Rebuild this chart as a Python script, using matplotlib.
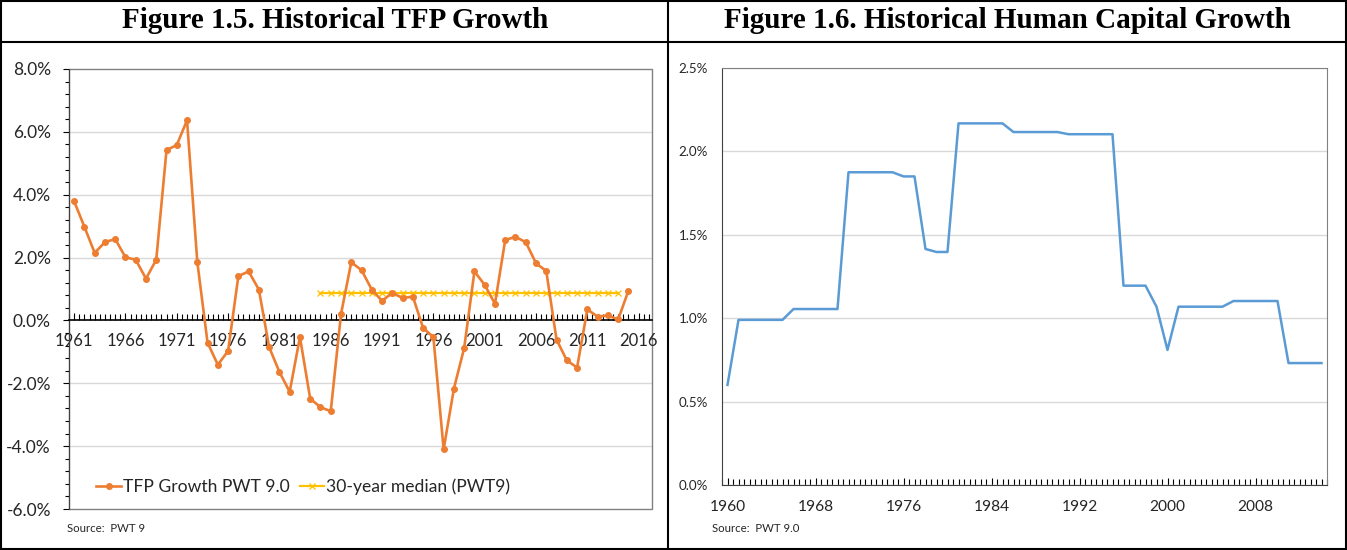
import numpy as np
import matplotlib
matplotlib.use("Agg")
import matplotlib.pyplot as plt
from matplotlib.lines import Line2D
from matplotlib.patches import Rectangle
from matplotlib.ticker import FuncFormatter, MultipleLocator

# --- Data ---
tfp_years = list(range(1961, 2016))
tfp_growth = [3.79, 2.98, 2.15, 2.49, 2.59, 2.01, 1.93, 1.33, 1.93,
              5.42, 5.58, 6.37, 1.86, -0.71, -1.41, -0.97, 1.41, 1.56, 0.98,
              -0.85, -1.64, -2.27, -0.53, -2.49, -2.76, -2.89, 0.20, 1.85, 1.60,
              0.98, 0.62, 0.88, 0.71, 0.76, -0.24, -0.53, -4.10, -2.17, -0.88,
              1.56, 1.13, 0.53, 2.56, 2.66, 2.49, 1.82, 1.57, -0.61, -1.27,
              -1.50, 0.35, 0.12, 0.16, 0.03, 0.94]
median_years = list(range(1985, 2015))
median_value = [0.88] * len(median_years)
tfp_tick_years = [1961, 1966, 1971, 1976, 1981, 1986, 1991, 1996, 2001, 2006, 2011, 2016]

hc_years = list(range(1960, 2015))
hc_growth = [0.60,
             0.99, 0.99, 0.99, 0.99, 0.99,
             1.055, 1.055, 1.055, 1.055, 1.055,
             1.875, 1.875, 1.875, 1.875, 1.875,
             1.85, 1.85, 1.415, 1.397, 1.397,
             2.168, 2.168, 2.168, 2.168, 2.168,
             2.116, 2.116, 2.116, 2.116, 2.116,
             2.103, 2.103, 2.103, 2.103, 2.103,
             1.195, 1.195, 1.195, 1.069, 0.81,
             1.069, 1.069, 1.069, 1.069, 1.069,
             1.103, 1.103, 1.103, 1.103, 1.103,
             0.731, 0.731, 0.731, 0.731]
hc_tick_years = [1960, 1968, 1976, 1984, 1992, 2000, 2008]

# --- Style ---
ORANGE = "#ED7D31"
YELLOW = "#FFC000"
BLUE = "#5B9BD5"
GRID = "#D9D9D9"
FRAME = "#808080"
TEXT = "#262626"
plt.rcParams["font.family"] = ["Lato", "DejaVu Sans"]

fig = plt.figure(figsize=(13.47, 5.5), dpi=100)
W, H = 1347, 550

def box(px_left, px_top, px_right, px_bottom):
    return [px_left / W, 1 - px_bottom / H, (px_right - px_left) / W, (px_bottom - px_top) / H]

pct = FuncFormatter(lambda v, _: f"{v:.1f}%")

# ---------- Left chart: TFP growth ----------
ax1 = fig.add_axes(box(69, 69, 652, 509))
ax1.plot(tfp_years, tfp_growth, color=ORANGE, lw=1.9, marker="o", ms=4,
         label="TFP Growth PWT 9.0", zorder=3)
ax1.plot(median_years, median_value, color=YELLOW, lw=1.6, marker="x", ms=4,
         mew=0.9, label="30-year median (PWT9)", zorder=2)
ax1.set_xlim(1960.6, 2017.3)
ax1.set_ylim(-6, 8)
ax1.set_yticks(np.arange(-6, 8.1, 2))
ax1.yaxis.set_major_formatter(pct)
ax1.yaxis.set_minor_locator(MultipleLocator(0.4))
for v in [-4, -2, 2, 4, 6]:
    ax1.axhline(v, color=GRID, lw=1, zorder=0)
for s in ["top", "right"]:
    ax1.spines[s].set_visible(False)
ax1.spines["bottom"].set_position(("data", 0))
ax1.spines["bottom"].set_color("black")
ax1.spines["bottom"].set_linewidth(1.2)
ax1.spines["left"].set_color("#404040")
ax1.add_patch(Rectangle((0, 0), 1, 1, transform=ax1.transAxes, fill=False,
                        edgecolor=FRAME, lw=1, clip_on=False, zorder=0))
ax1.set_xticks(tfp_tick_years)
ax1.set_xticks(np.arange(1960.5, 2017.5, 0.5), minor=True)
ax1.tick_params(axis="x", which="major", direction="in", length=5, pad=9,
                labelsize=12, labelcolor=TEXT)
ax1.tick_params(axis="x", which="minor", direction="in", length=4, width=0.8)
ax1.tick_params(axis="y", which="major", length=4, labelsize=12.5, labelcolor=TEXT, pad=9)
ax1.tick_params(axis="y", which="minor", length=3, width=0.8)
ax1.legend(loc="center left", bbox_to_anchor=(0.035, 0.05), ncol=2, frameon=False,
           fontsize=12.6, handlelength=1.4, handletextpad=0.1, columnspacing=0.6,
           labelcolor=TEXT, borderaxespad=0)
fig.text(67 / W, 1 - 528 / H, "Source:  PWT 9", fontsize=8.2, color=TEXT, va="center")

# ---------- Right chart: human capital growth ----------
ax2 = fig.add_axes(box(722, 68, 1327, 485))
ax2.plot(hc_years, hc_growth, color=BLUE, lw=1.8, zorder=3)
ax2.set_xlim(1959.5, 2014.5)
ax2.set_ylim(0, 2.5)
ax2.set_yticks(np.arange(0, 2.51, 0.5))
ax2.yaxis.set_major_formatter(pct)
ax2.grid(axis="y", color=GRID, lw=1)
ax2.set_axisbelow(True)
for s in ax2.spines.values():
    s.set_color(FRAME)
ax2.spines["left"].set_color("#404040")
ax2.spines["bottom"].set_color("#404040")
ax2.set_xticks(hc_tick_years)
ax2.set_xticks(np.arange(1959.5, 2015, 0.5), minor=True)
ax2.tick_params(axis="x", which="major", direction="in", length=5, pad=11,
                labelsize=11.2, labelcolor=TEXT)
ax2.tick_params(axis="x", which="minor", direction="in", length=4, width=0.8)
ax2.tick_params(axis="y", length=0, labelsize=9.6, labelcolor=TEXT, pad=10)
fig.text(712 / W, 1 - 528 / H, "Source:  PWT 9.0", fontsize=8.2, color=TEXT, va="center")

# ---------- Titles and table lines ----------
title_font = dict(family=["Liberation Serif", "DejaVu Serif"], fontsize=21,
                  fontweight="bold", ha="center", va="center", color="black")
fig.text(335 / W, 1 - 21 / H, "Figure 1.5. Historical TFP Growth", **title_font)
fig.text(1007 / W, 1 - 21 / H, "Figure 1.6. Historical Human Capital Growth", **title_font)

def fline(x0, y0, x1, y1):
    fig.add_artist(Line2D([x0 / W, x1 / W], [1 - y0 / H, 1 - y1 / H],
                          color="black", lw=1.5, transform=fig.transFigure))

fline(1, 1, 1346, 1)
fline(1, 549, 1346, 549)
fline(1, 1, 1, 549)
fline(1346, 1, 1346, 549)
fline(1, 42, 1346, 42)
fline(668, 1, 668, 549)

fig.savefig("out.png", dpi=100)
